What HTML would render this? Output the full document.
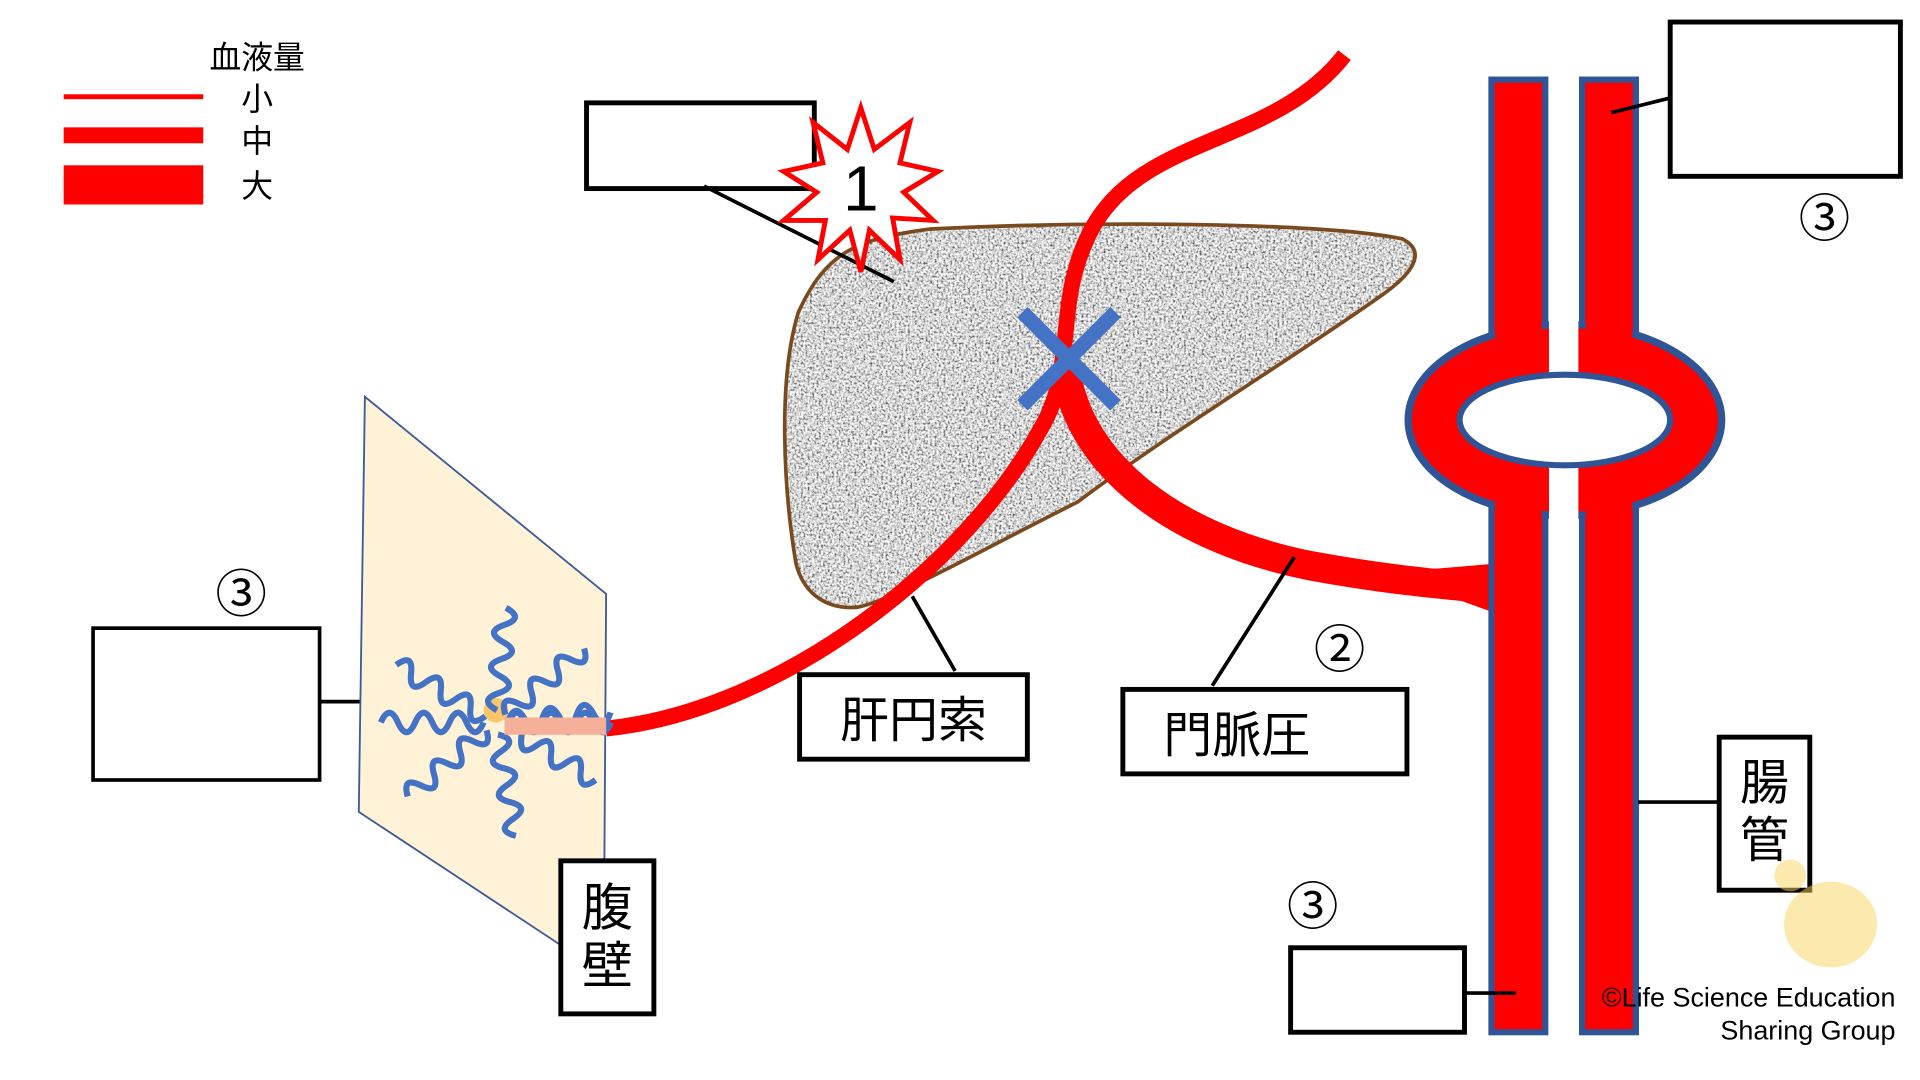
<!DOCTYPE html>
<html><head><meta charset="utf-8"><style>html,body{margin:0;padding:0;background:#fff}svg{display:block}</style></head>
<body>
<svg width="1920" height="1080" viewBox="0 0 1568 882" xmlns="http://www.w3.org/2000/svg" font-family="Liberation Sans, Noto Sans CJK JP, sans-serif">
<defs>
<filter id="noise" x="0" y="0" width="100%" height="100%" color-interpolation-filters="sRGB">
<feTurbulence type="fractalNoise" baseFrequency="0.55" numOctaves="2" seed="3"/>
<feColorMatrix type="matrix" values="2 0 0 0 -0.35  2 0 0 0 -0.35  2 0 0 0 -0.35  0 0 0 0 1"/>
<feComponentTransfer><feFuncR type="discrete" tableValues="0.35 0.6 0.75 0.87 0.97"/><feFuncG type="discrete" tableValues="0.35 0.6 0.75 0.87 0.97"/><feFuncB type="discrete" tableValues="0.35 0.6 0.75 0.87 0.97"/></feComponentTransfer>
</filter>
<clipPath id="liv"><path id="livp" d="M652,255 C675,205 700,195 760,187 C900,180 1080,182 1145,195 C1165,205 1155,222 1130,240 C1060,290 960,350 880,410 C800,450 730,490 700,496 C670,498 655,480 650,460 C640,400 635,310 652,255Z"/></clipPath>
</defs>
<rect width="1568" height="882" fill="#fff"/>
<text x="210" y="56" font-size="26" text-anchor="middle">血液量</text>
<rect x="52" y="77" width="114" height="4" fill="#f00"/>
<rect x="52" y="104" width="114" height="13" fill="#f00"/>
<rect x="52" y="135" width="114" height="32" fill="#f00"/>
<text x="210" y="90" font-size="26" text-anchor="middle">小</text>
<text x="210" y="124" font-size="26" text-anchor="middle">中</text>
<text x="210" y="161" font-size="26" text-anchor="middle">大</text>
<g clip-path="url(#liv)"><rect x="630" y="175" width="540" height="330" filter="url(#noise)"/></g>
<use href="#livp" fill="none" stroke="#7a4a1e" stroke-width="3"/>
<rect x="479" y="84" width="186" height="70" fill="#fff" stroke="#000" stroke-width="4"/>
<line x1="575" y1="152" x2="730" y2="230" stroke="#000" stroke-width="3"/>
<polygon fill="#fff" stroke="#f00" stroke-width="4" points="703,88 714,122 743,100 735,133 766,140 738,157 762,180 729,178 735,212 710,188 703,222 694,188 668,212 674,180 640,180 667,157 640,140 672,133 664,100 692,122"/>
<text x="703" y="172" font-size="52" text-anchor="middle">1</text>
<path d="M1098,45 C1040,120 930,110 890,190 C860,250 880,300 850,350 C790,460 640,580 495,595" fill="none" stroke="#f00" stroke-width="13"/>
<path d="M870,300 C880,380 960,440 1070,462 C1140,475 1190,478 1225,482" fill="none" stroke="#f00" stroke-width="24"/>
<path d="M1130,468 L1225,460 L1225,502 Z" fill="#f00"/>
<g stroke="#4472c4" stroke-width="12"><line x1="835" y1="255" x2="911" y2="331"/><line x1="911" y1="255" x2="835" y2="331"/></g>
<rect x="1218" y="65" width="44" height="778" fill="#f00" stroke="#2f5597" stroke-width="5"/>
<rect x="1292" y="65" width="44" height="778" fill="#f00" stroke="#2f5597" stroke-width="5"/>
<ellipse cx="1278" cy="343" rx="128" ry="78" fill="#f00" stroke="#2f5597" stroke-width="6"/>
<rect x="1221" y="230" width="38" height="230" fill="#f00"/>
<rect x="1295" y="230" width="38" height="230" fill="#f00"/>
<rect x="1265" y="60" width="24" height="260" fill="#fff"/>
<rect x="1265" y="365" width="24" height="482" fill="#fff"/>
<ellipse cx="1278" cy="343" rx="86" ry="37" fill="#fff" stroke="#2f5597" stroke-width="5"/>
<rect x="1364" y="18" width="188" height="126" fill="#fff" stroke="#000" stroke-width="4"/>
<line x1="1316" y1="92" x2="1364" y2="80" stroke="#000" stroke-width="3"/>
<text x="1490" y="193" font-size="42" text-anchor="middle">③</text>
<rect x="653" y="551" width="186" height="69" fill="#fff" stroke="#000" stroke-width="4"/>
<text x="746" y="602" font-size="40" text-anchor="middle">肝円索</text>
<line x1="780" y1="548" x2="745" y2="487" stroke="#000" stroke-width="3"/>
<rect x="917" y="563" width="232" height="69" fill="#fff" stroke="#000" stroke-width="4"/>
<text x="1010" y="614" font-size="40" text-anchor="middle">門脈圧</text>
<line x1="990" y1="560" x2="1057" y2="455" stroke="#000" stroke-width="3"/>
<text x="1094" y="545" font-size="42" text-anchor="middle">②</text>
<rect x="1404" y="602" width="74" height="125" fill="#fff" stroke="#000" stroke-width="4"/>
<text x="1441" y="653" font-size="40" text-anchor="middle">腸</text>
<text x="1441" y="700" font-size="40" text-anchor="middle">管</text>
<line x1="1338" y1="655" x2="1404" y2="655" stroke="#000" stroke-width="3"/>
<text x="1072" y="755" font-size="42" text-anchor="middle">③</text>
<rect x="1054" y="774" width="142" height="69" fill="#fff" stroke="#000" stroke-width="4"/>
<line x1="1196" y1="811" x2="1238" y2="811" stroke="#000" stroke-width="3"/>
<text x="197" y="500" font-size="42" text-anchor="middle">③</text>
<rect x="76" y="513" width="185" height="124" fill="#fff" stroke="#000" stroke-width="3"/>
<line x1="261" y1="573" x2="330" y2="573" stroke="#000" stroke-width="3"/>
<polygon points="298,324 495,485 493,795 293,663" fill="#fff2d6" stroke="#3c5a9a" stroke-width="1.5"/>
<circle cx="405" cy="580" r="10" fill="#f7c56a"/>
<g fill="none" stroke="#4472c4" stroke-width="5">
<g transform="translate(405,590)">
<path id="w" d="M10,0 q7,-16 14,0 t14,0 t14,0 t14,0 t14,0 t14,0"/>
<use href="#w" transform="rotate(-5)"/>
<use href="#w" transform="rotate(180)"/>
<use href="#w" transform="rotate(-85)"/>
<use href="#w" transform="rotate(80)"/>
<use href="#w" transform="rotate(-40)"/>
<use href="#w" transform="rotate(140)"/>
<use href="#w" transform="rotate(210)"/>
<use href="#w" transform="rotate(30)"/>
</g></g>
<line x1="412" y1="593" x2="495" y2="593" stroke="#f6b09a" stroke-width="14"/>
<rect x="458" y="703" width="76" height="125" fill="#fff" stroke="#000" stroke-width="4"/>
<text x="496" y="756" font-size="42" text-anchor="middle">腹</text>
<text x="496" y="803" font-size="42" text-anchor="middle">壁</text>
<ellipse cx="1495" cy="755" rx="38" ry="35" fill="#f9d45c" opacity="0.5"/>
<circle cx="1462" cy="715" r="13" fill="#f9d45c" opacity="0.5"/>
<text x="1548" y="822" font-size="22" text-anchor="end">©Life Science Education</text>
<text x="1548" y="849" font-size="22" text-anchor="end">Sharing Group</text>
</svg>
</body></html>
